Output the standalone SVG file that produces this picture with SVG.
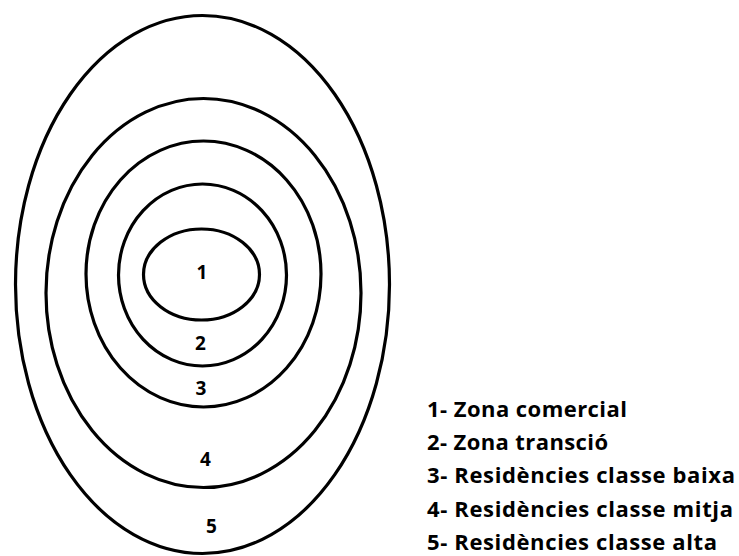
<svg xmlns="http://www.w3.org/2000/svg" width="739" height="556" viewBox="0 0 739 556">
<style>
.ring{fill:none;stroke:#000;stroke-width:3.2}
.num{font-family:"Open Sans","Liberation Sans",sans-serif;font-weight:bold;font-size:19px;fill:#000;text-anchor:middle}
.leg{font-family:"Open Sans","Liberation Sans",sans-serif;font-weight:bold;font-size:22px;fill:#000}
</style>
<rect width="739" height="556" fill="#fff"/>
<g id="zone5"><ellipse class="ring" cx="202.5" cy="284.5" rx="187" ry="269"/><text class="num" x="211.5" y="533">5</text></g>
<g id="zone4"><ellipse class="ring" cx="203.5" cy="293" rx="157.5" ry="194.5"/><text class="num" x="205.5" y="466">4</text></g>
<g id="zone3"><ellipse class="ring" cx="203.5" cy="274" rx="117.5" ry="133"/><text class="num" x="201" y="395">3</text></g>
<g id="zone2"><ellipse class="ring" cx="202.5" cy="275" rx="84" ry="91"/><text class="num" x="200.5" y="350">2</text></g>
<g id="zone1"><ellipse class="ring" cx="201.5" cy="274.5" rx="58" ry="45.5"/><text class="num" x="202" y="279">1</text></g>
<g id="legend">
<text class="leg" x="427" y="417" textLength="200" lengthAdjust="spacing">1- Zona comercial</text>
<text class="leg" x="427" y="450" textLength="181" lengthAdjust="spacing">2- Zona transció</text>
<text class="leg" x="427" y="483" textLength="308" lengthAdjust="spacing">3- Residències classe baixa</text>
<text class="leg" x="427" y="517" textLength="306" lengthAdjust="spacing">4- Residències classe mitja</text>
<text class="leg" x="427" y="550" textLength="290" lengthAdjust="spacing">5- Residències classe alta</text>
</g>
</svg>
